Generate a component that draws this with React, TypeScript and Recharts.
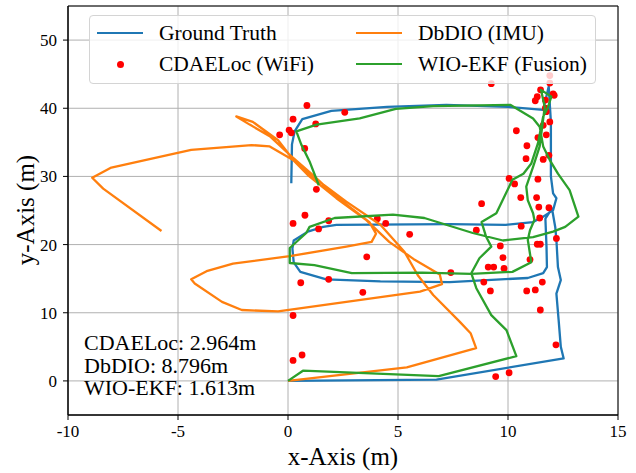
import React from 'react';
import { ScatterChart, Scatter, XAxis, YAxis, CartesianGrid, ReferenceArea } from 'recharts';

// trajectories, [x, y] in metres
const groundTruth = [
  [0.15, 29.0], [0.18, 34.7], [0.3, 36.6], [0.65, 38.4], [1.97, 39.6], [4.5, 40.2], [7.2, 40.5],
  [10.0, 40.2], [11.6, 39.75], [11.85, 43.2], [11.95, 38.0], [11.95, 30.0], [12.05, 27.5],
  [12.2, 26.8], [12.05, 25.05], [11.6, 24.1], [11.14, 23.3], [9.9, 22.9], [7.35, 23.0],
  [2.2, 22.9], [1.6, 22.6], [0.9, 21.9], [0.26, 20.6], [0.2, 19.4], [0.26, 17.4], [0.56, 16.0],
  [1.74, 14.9], [4.2, 14.6], [7.35, 14.5], [10.9, 15.1], [11.6, 15.8], [11.77, 16.7],
  [11.75, 19.7], [11.7, 23.8], [12.0, 25.3], [12.15, 22.5], [12.2, 20.7], [12.27, 16.7],
  [12.4, 14.8], [12.2, 12.8], [12.3, 9.0], [12.4, 5.0], [12.53, 3.3], [6.75, 0.2], [0, 0],
];

const dbdio = [
  [0, 0], [5.4, 2.0], [8.55, 4.8], [8.3, 7.0], [7.8, 8.7], [6.6, 12.6], [5.9, 15.5], [5.3, 18.9],
  [4.2, 22.9], [2.65, 26.3], [1.4, 29.3], [0.3, 32.2], [-0.45, 35.3], [-1.6, 38.0], [-2.35, 38.8],
  [-1.74, 37.6], [-0.83, 35.9], [0.0, 33.4], [1.2, 30.0], [2.2, 27.0], [3.1, 24.8], [3.7, 23.3],
  [4.0, 21.6], [3.8, 20.4], [2.65, 19.7], [0.08, 18.3], [-2.5, 17.2], [-3.7, 16.1], [-4.4, 14.9],
  [-4.24, 14.3], [-3.0, 11.6], [-2.1, 10.4], [-0.45, 10.2], [6.0, 13.1], [7.0, 14.2], [6.9, 15.6],
  [5.7, 17.9], [4.6, 20.4], [3.56, 23.6], [2.2, 26.8], [0.9, 30.2], [0.23, 32.4], [-0.83, 34.4],
  [-1.66, 34.6], [-4.4, 33.9], [-6.6, 32.3], [-8.03, 31.3], [-8.9, 29.8], [-8.4, 28.2], [-5.75, 22.0],
];

const wioEkf = [
  [1.4, 28.7], [0.98, 32.2], [0.6, 34.7], [0.38, 36.6], [1.3, 37.6], [3.26, 38.5], [4.9, 39.9],
  [6.6, 40.3], [10.1, 40.5], [11.14, 38.5], [11.44, 37.3], [11.6, 34.4], [11.9, 32.4],
  [12.27, 30.4], [12.8, 28.0], [13.2, 24.1], [12.6, 22.6], [12.05, 21.9], [11.14, 21.1],
  [9.77, 20.6], [8.4, 21.7], [6.2, 23.9], [4.77, 24.4], [2.12, 23.9], [0.98, 22.6], [0.83, 21.7],
  [0.08, 19.5], [0.08, 17.3], [1.2, 17.0], [2.9, 15.8], [6.1, 15.9], [8.33, 15.7], [10.2, 16.0],
  [11.06, 17.4], [10.9, 20.7], [11.0, 22.1], [11.2, 23.6], [11.14, 24.6], [10.9, 26.5],
  [10.83, 28.5], [11.14, 31.4], [11.44, 34.4], [11.67, 40.2], [11.5, 42.7], [11.97, 41.7],
  [11.8, 40.0], [11.6, 38.8], [11.36, 34.85], [11.06, 31.9], [10.7, 30.4], [10.2, 29.5],
  [9.47, 24.6], [8.8, 23.3], [9.0, 21.2], [9.24, 19.7], [8.7, 18.0], [8.33, 15.8], [8.56, 13.6],
  [9.24, 9.65], [9.93, 7.45], [10.38, 3.63], [6.85, 0.7], [0.68, 1.5], [0, 0],
];

const cdaeloc = [
  [9.24, 43.6], [11.9, 43.7], [11.9, 44.8], [11.48, 42.7], [11.33, 41.7], [11.24, 41.1], [11.7, 41.2],
  [12.05, 42.1], [12.1, 41.9], [11.74, 39.5], [11.7, 40.0], [0.86, 40.4], [2.58, 39.4], [0.23, 38.4],
  [1.26, 37.7], [0.05, 36.8], [0.15, 36.4], [-0.38, 36.1], [0.76, 34.1], [1.29, 28.1], [10.38, 36.7],
  [11.9, 38.0], [11.6, 37.5], [11.36, 35.7], [11.74, 36.1], [10.86, 34.5], [11.86, 33.1],
  [11.6, 32.5], [10.82, 32.6], [10.05, 29.7], [10.3, 28.9], [11.36, 29.6], [8.8, 26.0],
  [10.58, 26.9], [11.3, 26.9], [11.4, 25.5], [11.86, 25.4], [11.44, 23.9], [10.6, 22.7],
  [8.56, 22.1], [0.23, 23.1], [0.77, 24.3], [1.85, 23.5], [1.39, 22.3], [4.06, 23.8], [4.44, 23.1],
  [5.53, 21.5], [12.2, 20.9], [11.33, 20.05], [11.47, 20.05], [9.65, 19.8], [9.77, 18.1],
  [11.0, 17.8], [9.1, 16.7], [9.35, 16.7], [9.82, 16.5], [7.4, 15.9], [3.58, 18.2], [0.58, 14.4],
  [1.85, 14.9], [8.9, 14.5], [9.2, 13.2], [10.85, 13.2], [11.24, 13.35], [11.56, 14.5], [3.4, 13.0],
  [11.47, 10.4], [0.23, 9.6], [12.18, 5.3], [0.23, 3.0], [0.64, 3.8], [9.44, 0.64], [10.05, 1.2],
];

const xTicks = [-10, -5, 0, 5, 10, 15];
const yTicks = [0, 10, 20, 30, 40, 50];

const errorLines = ['CDAELoc: 2.964m', 'DbDIO: 8.796m', 'WIO-EKF: 1.613m'];

const BLUE = '#1f77b4';
const ORANGE = '#ff7f0e';
const GREEN = '#2ca02c';
const RED = '#ff0000';
const FONT = '"Liberation Serif", "Times New Roman", serif';
const LW = 2.3;

const pts = (a: number[][]) => a.map(([x, y]) => ({ x, y }));

const NoShape = () => <g />;
const RedDot = (p: any) => <circle cx={p.cx} cy={p.cy} r={3.4} fill={RED} />;

function LegendBox() {
  const item = (label: string, left: number, top: number, marker: React.ReactNode) => (
    <div style={{ position: 'absolute', left, top, height: 30, display: 'flex', alignItems: 'center' }}>
      <div style={{ width: 46, height: 30, position: 'relative' }}>{marker}</div>
      <span style={{ marginLeft: 16, fontSize: 21.5, whiteSpace: 'nowrap' }}>{label}</span>
    </div>
  );
  const line = (c: string) => (
    <div style={{ position: 'absolute', left: 0, top: 14, width: 46, height: LW, background: c }} />
  );
  const dot = (
    <div style={{ position: 'absolute', left: 19.5, top: 11.5, width: 7, height: 7, borderRadius: 4, background: RED }} />
  );
  return (
    <div
      style={{
        position: 'absolute', left: 89, top: 15, width: 505, height: 67,
        border: '1px solid #d4d4d4', borderRadius: 4, background: 'rgba(255,255,255,0.8)',
      }}
    >
      {item('Ground Truth', 7, 2, line(BLUE))}
      {item('CDAELoc (WiFi)', 7, 33, dot)}
      {item('DbDIO (IMU)', 266, 2, line(ORANGE))}
      {item('WIO-EKF (Fusion)', 266, 33, line(GREEN))}
    </div>
  );
}

export default function App() {
  const tickStyle = { fill: '#000', fontSize: 17, fontFamily: FONT };
  return (
    <div style={{ position: 'absolute', left: 0, top: 0, width: 636, height: 473, background: '#fff', fontFamily: FONT, color: '#000' }}>
      <ScatterChart width={636} height={473} margin={{ top: 6, right: 18, bottom: 0, left: 10 }}>
        <CartesianGrid stroke="#b0b0b0" strokeWidth={1} />
        <XAxis
          type="number" dataKey="x" domain={[-10, 15]} ticks={xTicks} allowDataOverflow
          height={58} tickSize={5} tickMargin={5} stroke="#000" tick={tickStyle}
          label={{ value: 'x-Axis (m)', position: 'insideBottom', offset: 8, fill: '#000', fontSize: 25, fontFamily: FONT }}
        />
        <YAxis
          type="number" dataKey="y" domain={[-5, 55]} ticks={yTicks} allowDataOverflow
          width={58} tickSize={5} tickMargin={6} stroke="#000" tick={tickStyle}
          label={() => (
            <text x={25} y={210} transform="rotate(-90 25 210)" textAnchor="middle" dominantBaseline="central"
              fill="#000" fontSize={25} fontFamily={FONT}>
              y-Axis (m)
            </text>
          )}
        />
        <Scatter data={pts(groundTruth)} line={{ stroke: BLUE, strokeWidth: LW, strokeLinejoin: 'round' }} lineType="joint" shape={NoShape} isAnimationActive={false} />
        <Scatter data={pts(cdaeloc)} shape={RedDot} isAnimationActive={false} />
        <Scatter data={pts(dbdio)} line={{ stroke: ORANGE, strokeWidth: LW, strokeLinejoin: 'round' }} lineType="joint" shape={NoShape} isAnimationActive={false} />
        <Scatter data={pts(wioEkf)} line={{ stroke: GREEN, strokeWidth: LW, strokeLinejoin: 'round' }} lineType="joint" shape={NoShape} isAnimationActive={false} />
        <ReferenceArea x1={-10} x2={15} y1={-5} y2={55} fill="none" stroke="#000" strokeWidth={1} fillOpacity={0} />
      </ScatterChart>
      <LegendBox />
      <div style={{ position: 'absolute', left: 84, top: 332, fontSize: 22, lineHeight: '22.7px' }}>
        {errorLines.map((t) => (
          <div key={t}>{t}</div>
        ))}
      </div>
    </div>
  );
}
